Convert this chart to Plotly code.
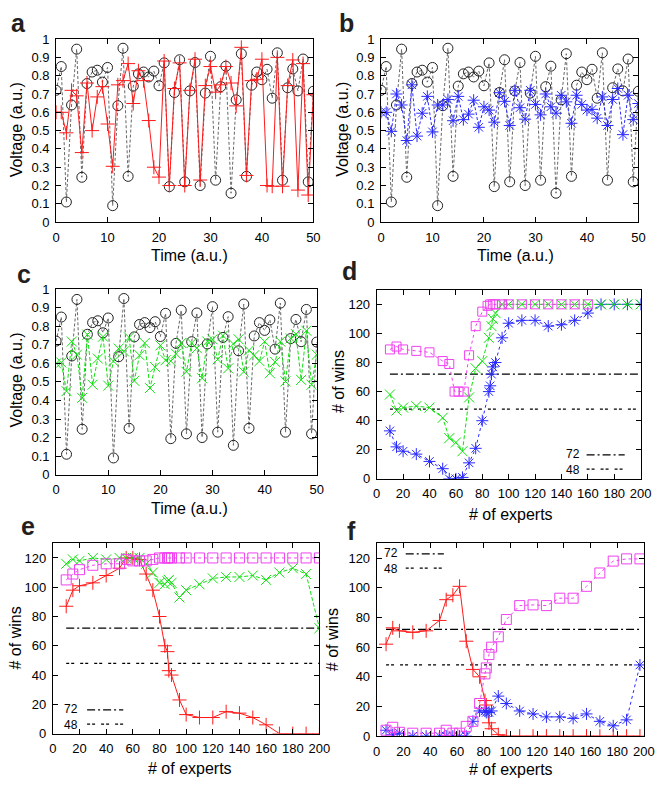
import plotly.graph_objects as go

W, H = 666, 789

# ---------------- data: panels a-c (voltage vs time) ----------------
time = list(range(0, 51))
target = [0.72, 0.85, 0.11, 0.64, 0.945, 0.245, 0.757, 0.82, 0.83, 0.765, 0.845, 0.09, 0.636, 0.95, 0.25,
          0.743, 0.81, 0.82, 0.793, 0.825, 0.745, 0.87, 0.194, 0.708, 0.887, 0.22, 0.717, 0.872, 0.20, 0.705,
          0.906, 0.229, 0.74, 0.852, 0.158, 0.668, 0.92, 0.25, 0.748, 0.82, 0.778, 0.835, 0.677, 0.925, 0.229,
          0.734, 0.837, 0.717, 0.891, 0.22, 0.715]
pred_red = [0.60, 0.60, 0.488, 0.72, 0.69, 0.38, 0.76, 0.50, 0.684, 0.74, 0.536, 0.305, 0.75, 0.773, 0.866,
            0.648, 0.827, 0.773, 0.555, 0.30, 0.246, 0.88, 0.20, 0.73, 0.87, 0.20, 0.72, 0.89, 0.23, 0.746,
            0.85, 0.71, 0.75, 0.85, 0.76, 0.635, 0.955, 0.255, 0.773, 0.78, 0.89, 0.20, 0.196, 0.90, 0.196,
            0.746, 0.886, 0.175, 0.866, 0.148, 0.696]
pred_blue = [0.60, 0.60, 0.496, 0.70, 0.64, 0.446, 0.75, 0.47, 0.595, 0.687, 0.493, 0.64, 0.64, 0.67, 0.554,
             0.687, 0.56, 0.59, 0.666, 0.518, 0.63, 0.612, 0.546, 0.707, 0.66, 0.528, 0.72, 0.625, 0.5625, 0.72,
             0.643, 0.586, 0.70, 0.63, 0.595, 0.693, 0.657, 0.54, 0.693, 0.643, 0.612, 0.616, 0.568, 0.684, 0.528,
             0.67, 0.73, 0.478, 0.693, 0.56, 0.648]
pred_green = [0.60, 0.605, 0.45, 0.718, 0.647, 0.414, 0.755, 0.485, 0.626, 0.744, 0.48, 0.612, 0.68, 0.665, 0.74,
              0.506, 0.644, 0.71, 0.467, 0.58, 0.697, 0.617, 0.612, 0.652, 0.71, 0.555, 0.71, 0.682, 0.52, 0.718,
              0.73, 0.622, 0.75, 0.573, 0.705, 0.73, 0.555, 0.67, 0.644, 0.612, 0.718, 0.547, 0.608, 0.718, 0.503,
              0.735, 0.758, 0.511, 0.776, 0.485, 0.647]

# ---------------- data: panel d ----------------
d_blue_x = [10, 15, 20, 30, 40, 50, 55, 60, 65, 70, 75, 80, 85, 86, 87, 88, 90, 95, 100, 110, 120, 130, 140,
            150, 160, 170, 180, 190, 200]
d_blue_y = [33, 22, 19, 17, 12, 7, 0, 0, 1, 11, 21, 40, 60, 64, 72, 77, 80, 97, 107, 109, 109, 105, 106,
            109, 114, 120, 120, 120, 120]
d_green_x = [10, 15, 20, 30, 40, 50, 55, 60, 65, 70, 75, 80, 85, 87, 88, 90, 95, 100, 110, 120, 130, 140,
             150, 160, 170, 180, 190, 200]
d_green_y = [58, 47, 49, 50, 49, 42, 28, 25, 19, 56, 76, 81, 97, 105, 110, 114, 120, 120, 120, 120, 120, 120,
             120, 120, 120, 120, 120, 120]
d_mag_x = [10, 15, 20, 30, 40, 50, 55, 59, 62, 66, 70, 75, 80, 84, 86, 88, 90, 95, 100, 110, 120, 130, 140,
           150, 160]
d_mag_y = [89, 91, 89, 88, 87, 81, 79, 60, 60, 60, 85, 105, 115, 119, 120, 120, 120, 120, 120, 120, 120, 120,
           120, 120, 120]

# ---------------- data: panel e ----------------
e_x = [10, 15, 20, 30, 40, 50, 55, 60, 65, 70, 75, 80, 84, 86, 87, 89, 95, 100, 110, 120, 130, 140, 150, 160,
       170, 180, 190, 200]
e_red_y = [87, 98, 101, 103, 108, 113, 120, 120, 119, 109, 98, 80, 60, 56, 43, 40, 23, 13, 11, 11, 15, 14, 11,
           6, 0, 0, 0, 0]
e_green_y = [116, 119, 118, 120, 119, 120, 120, 120, 120, 116, 110, 103, 102, 104, 105, 103, 93, 98, 102, 106,
             107, 107, 108, 105, 110, 113, 109, 72]
e_mag_y = [105, 109, 112, 115, 116, 116, 119, 118, 118, 118, 119, 120, 120, 120, 120, 120, 120, 120, 120, 120,
           120, 120, 120, 120, 120, 120, 120, 120]

# ---------------- data: panel f ----------------
f_x = [7, 12, 17, 27, 37, 47, 52, 57, 62, 67, 72, 77, 81, 82, 84, 86, 91, 97, 107, 117, 127, 137, 147, 157,
       167, 177, 187, 197]
f_red_y = [62, 73, 71, 70, 71, 78, 92, 95, 101, 64, 45, 40, 24, 21, 9, 5, 1, 0, 0, 0, 0, 0, 0, 0, 0, 0, 0, 0]
f_blue_y = [4, 1, 2, 0, 0, 0, 0, 0, 0, 0, 10, 17, 17, 16, 16, 17, 27, 22, 17, 15, 13, 13, 12, 15, 10, 7, 11, 48]
f_mag_y = [4, 6, 2.6, 2, 2, 2, 4, 2, 2, 6.6, 10, 22, 42, 46, 55, 60, 67, 78.6, 88, 88.5, 88, 93, 93, 101, 110,
           118, 119.5, 119.5]

thresholds = [72, 48]
threshold_labels = ["72", "48"]

panel_letters = ["a", "b", "c", "d", "e", "f"]
volt_ticks = [0, 0.1, 0.2, 0.3, 0.4, 0.5, 0.6, 0.7, 0.8, 0.9, 1]
time_ticks = [0, 10, 20, 30, 40, 50]
exp_ticks = [0, 20, 40, 60, 80, 100, 120, 140, 160, 180, 200]
win_ticks = [0, 20, 40, 60, 80, 100, 120]

# ---------------- styling ----------------
FONT = "Liberation Sans, Arial, Helvetica, sans-serif"
RED = "#ff1a1a"
BLUE = "#2a2aff"
GREEN = "#10e010"
MAG = "#f040f0"
DASH72 = "8px,3px,2px,3px"
DASH48 = "3px,2px,3px,6px"


def dom_x(a, b):
    return [a / W, b / W]


def dom_y(top, bottom):
    return [1 - bottom / H, 1 - top / H]


# panel frames in screen pixels: (left, right, top, bottom)
frames = {
    1: (53.3, 316.5, 32.7, 219.3),
    2: (385.7, 649.0, 32.7, 219.3),
    3: (53.3, 320.0, 287.7, 476.7),
    4: (381.3, 651.3, 288.3, 481.0),
    5: (50.0, 322.7, 546.7, 740.7),
    6: (381.3, 654.7, 546.7, 743.3),
}

fig = go.Figure()


def ax_names(i):
    return ("x" if i == 1 else f"x{i}", "y" if i == 1 else f"y{i}")


def add(i, x, y, mode, color, symbol=None, size=9, dash="solid", lw=1.0, mcolor=None):
    xa, ya = ax_names(i)
    kw = dict(x=x, y=y, mode=mode, xaxis=xa, yaxis=ya, showlegend=False, hoverinfo="skip",
              line=dict(color=color, width=lw, dash=dash))
    if symbol:
        kw["marker"] = dict(symbol=symbol, size=size, color=mcolor or color,
                            line=dict(color=mcolor or color, width=1))
    fig.add_trace(go.Scatter(**kw))


# target series (gray dashed + open circles) and predictions
for i, pred, col, sym, dsh in [(1, pred_red, RED, "cross-thin-open", "solid"),
                               (2, pred_blue, BLUE, "asterisk-open", "3px,2px"),
                               (3, pred_green, GREEN, "x-thin-open", "4px,2px")]:
    add(i, time, target, "lines", "#666666", dash="3px,2px", lw=1)
    add(i, time, target, "markers", "#222222", symbol="circle-open", size=10)
    add(i, time, pred, "lines+markers", col, symbol=sym, size=10, dash=dsh, lw=1)


def add_thresholds(i, xs):
    lo, hi = min(xs), max(xs)
    add(i, [lo, hi], [thresholds[0]] * 2, "lines", "black", dash=DASH72, lw=1.2)
    add(i, [lo, hi], [thresholds[1]] * 2, "lines", "black", dash=DASH48, lw=1.2)


# panel d
add_thresholds(4, d_blue_x)
add(4, d_blue_x, d_blue_y, "lines+markers", BLUE, symbol="asterisk-open", size=10, dash="dot")
add(4, d_green_x, d_green_y, "lines+markers", GREEN, symbol="x-thin-open", size=10, dash="4px,2px")
add(4, d_mag_x, d_mag_y, "lines+markers", MAG, symbol="square-open", size=9, dash="dot")

# panel e
add_thresholds(5, e_x)
add(5, e_x, e_red_y, "lines+markers", RED, symbol="cross-thin-open", size=10)
add(5, e_x, e_green_y, "lines+markers", GREEN, symbol="x-thin-open", size=10, dash="4px,2px")
add(5, e_x, e_mag_y, "lines+markers", MAG, symbol="square-open", size=10, dash="dot")

# panel f
add_thresholds(6, f_x)
add(6, f_x, f_red_y, "lines+markers", RED, symbol="cross-thin-open", size=10)
add(6, f_x, f_blue_y, "lines+markers", BLUE, symbol="asterisk-open", size=10, dash="dot")
add(6, f_x, f_mag_y, "lines+markers", MAG, symbol="square-open", size=10, dash="dot")

axis_common = dict(showline=True, linecolor="black", linewidth=1, mirror="allticks", ticks="inside",
                   ticklen=5, tickcolor="black", tickwidth=1, showgrid=False, zeroline=False,
                   tickfont=dict(family=FONT, size=13, color="black"), ticklabelstandoff=3,
                   fixedrange=True)

layout = dict(width=W, height=H, margin=dict(l=0, r=0, t=0, b=0), paper_bgcolor="white",
              plot_bgcolor="white", font=dict(family=FONT, color="black"), hovermode=False)
for i, (l, r, t, b) in frames.items():
    xk = "xaxis" if i == 1 else f"xaxis{i}"
    yk = "yaxis" if i == 1 else f"yaxis{i}"
    if i <= 3:
        xr, xt, yr, yt = [0, 50], time_ticks, [0, 1], volt_ticks
    else:
        xr, xt, yr, yt = [0, 200], exp_ticks, [0, 130], win_ticks
    layout[xk] = dict(axis_common, domain=dom_x(l, r), range=xr, tickvals=xt,
                      anchor="y" if i == 1 else f"y{i}")
    layout[yk] = dict(axis_common, domain=dom_y(t, b), range=yr, tickvals=yt,
                      anchor="x" if i == 1 else f"x{i}")
fig.update_layout(**layout)


def P(px, py):
    return px / W, 1 - py / H


ann = []


def text(px, py, s, size=16, angle=0, bold=False, xanchor="center", yanchor="middle", color="black"):
    x, y = P(px, py)
    ann.append(dict(x=x, y=y, xref="paper", yref="paper", text=f"<b>{s}</b>" if bold else s,
                    showarrow=False, textangle=angle, xanchor=xanchor, yanchor=yanchor,
                    font=dict(family=FONT, size=size, color=color)))


# panel letters (box top positions; baseline ~ top + 24)
for s, (px, py) in zip(panel_letters, [(5, 0), (341, 0), (11, 256), (344, 253), (15, 513), (349, 518)]):
    text(px, py, s, size=25, bold=True, xanchor="left", yanchor="top", color="#231f20")

# axis titles
for px, py in [(13, 125), (346, 125), (13, 380)]:
    text(px, py, "Voltage (a.u.)", angle=-90)
for px, py in [(190, 253), (523, 253), (190, 511)]:
    text(px, py, "Time (a.u.)")
for px, py in [(342, 382), (12, 643), (336, 645)]:
    text(px, py, "# of wins", angle=-90)
for px, py in [(519, 517), (190, 776), (519, 777)]:
    text(px, py, "# of experts")

# threshold legends (two-line text + line samples)
shapes = []
for (tx, ty72, ty48, lx0, lx1) in [(582, 456.5, 471, 596, 635), (69, 716.5, 731, 85, 122),
                                   (396, 557.5, 572, 411, 450)]:
    text(tx, (ty72 + ty48) / 2, "<br>".join(threshold_labels), size=12)
    for ty, dsh in [(ty72, DASH72), (ty48, DASH48)]:
        x0, y0 = P(lx0, ty)
        x1, _ = P(lx1, ty)
        shapes.append(dict(type="line", xref="paper", yref="paper", x0=x0, x1=x1, y0=y0, y1=y0,
                           line=dict(color="black", width=1.2, dash=dsh)))

fig.update_layout(annotations=ann, shapes=shapes)
fig.write_html("out.html", config={"displayModeBar": False, "staticPlot": True},
               post_script="document.body.style.margin='0px';")
